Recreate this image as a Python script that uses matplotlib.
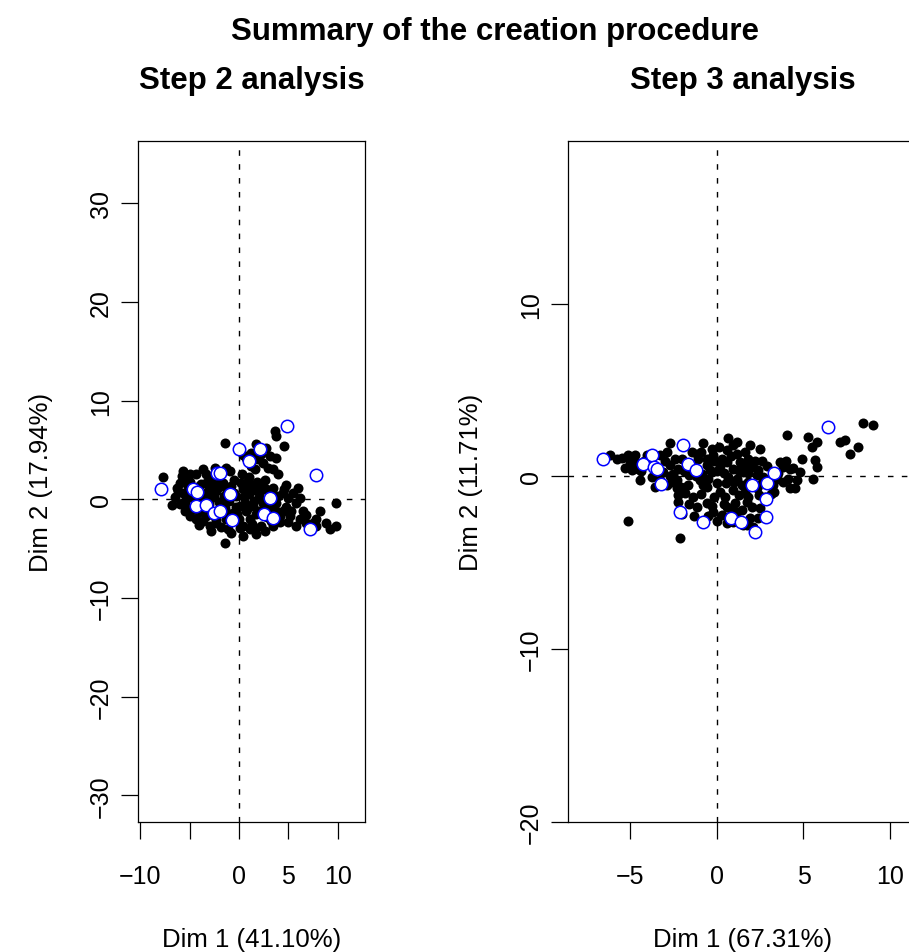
import matplotlib
matplotlib.use("Agg")
import matplotlib.pyplot as plt

plt.rcParams["font.family"] = ["Liberation Sans", "DejaVu Sans"]

# ---- step 2 analysis (left panel) ----
s2_x = [-1.45, 1.69, 2.77, 4.53, 3.61, 3.78, 3.11, 3.78, 2.43, 2.94, 3.45, 3.95, 1.59, 0.74,
        0.41, 1.25, 2.26, 1.93, -7.70, -5.68, -5.00, -5.51, -6.01, -6.18, -5.68, -5.17, -3.65,
        -3.31, -2.47, -1.28, -0.95, -2.97, -3.82, -2.64, -1.62, -2.30, -3.31, -3.82, -5.34,
        -6.01, -5.51, -5.00, -4.32, -3.31, -2.97, -2.30, -1.28, -0.61, -1.45, 0.07, -0.27,
        0.41, 0.91, 1.42, 2.09, 2.77, 3.45, 4.80, 5.98, 4.46, 4.97, 3.78, 4.46, 5.14, 5.81,
        6.49, 6.15, 5.81, 6.82, 7.84, 8.18, 7.84, 9.19, 9.86, 9.86, 1.42, 1.76, 1.08, 0.41,
        1.76, -0.78, -1.45, 0.74, 2.43, 3.11, 2.26, 1.08, 3.45, 4.12, 0.41,
        -4.8, -4.5, -4.0, -3.5, -3.0, -2.5, -2.0, -1.5, -1.0, -0.5, 0.5, 1.0, 1.5, 2.0, 2.5,
        3.0, -5.5, -4.8, -4.0, -3.6, -2.0, -1.0, 0.0, 1.3, 2.8, 3.8, 4.8, 5.5, -2.0, -1.2,
        0.2, 1.0, 1.8, 2.6, -3.0, -4.3, -5.0, -6.5, -6.8, -4.0, -2.8, -1.8, 0.8, 2.0, 3.2,
        -0.3, -2.6, 1.2, 0.3, -3.0, 4.0, 5.0, 6.8, 7.5, 8.8,
        -5.2, -4.6, -3.9, -3.3, -2.8, -2.2, -1.7, -0.8, -0.2, 0.6, 1.1, 1.6, 2.3, 2.9, 3.4,
        4.2, 4.6, 5.3, 6.2, -6.3, -5.8, -4.4, -2.0, -0.5, 0.1, 1.6, 2.6, -1.1, -2.3, -3.2]
s2_y = [5.74, 5.57, 5.24, 5.41, 6.93, 6.42, 4.39, 4.22, 3.72, 3.21, 3.04, 2.53, 3.04, 4.22,
        4.46, 4.73, 4.56, 4.05, 2.30, 2.87, 2.53, 2.03, 1.69, 0.84, 0.68, 1.35, 3.04, 2.53,
        3.21, 3.21, 2.87, 1.86, 1.52, 1.35, 1.69, 0.84, 0.68, 0.00, 0.00, -0.51, -1.18,
        -1.69, -2.03, -1.69, -2.70, -2.36, -2.03, -1.35, -0.84, -0.68, 0.34, 1.01, 1.86,
        1.18, 0.84, 1.01, 1.18, 1.42, 1.18, 0.68, 0.17, -0.34, -1.18, -1.69, -0.34, -1.18,
        -2.03, -2.70, -2.36, -2.03, -1.18, -2.70, -3.04, -2.70, -0.34, -0.68, -1.52, -2.03,
        -2.70, -3.55, -3.45, -4.46, -1.18, -0.34, -1.01, -2.70, -3.04, -2.70, -1.69, -3.72,
        0.3, -0.2, 0.5, 0.0, -0.5, 0.2, -0.3, 0.3, -0.2, 0.6, 0.2, 0.5, -0.2, 0.2, -0.5,
        0.4, -0.5, -1.0, -1.3, -2.2, -1.0, -1.5, -2.0, -2.5, -1.8, -1.2, -0.8, 0.6, 1.2, 0.9,
        1.6, 2.3, 1.7, 2.0, 1.0, 1.2, 1.8, 0.2, -0.6, -2.6, -3.2, -2.8, -1.0, -1.2, -2.2,
        -0.8, -1.6, 3.4, 2.6, 2.0, 0.3, -2.3, -1.6, -2.4, -2.4,
        -0.9, 0.9, -0.7, 1.6, 0.4, 1.9, -0.6, 1.3, -1.5, -0.4, 1.3, 0.9, 1.2, -0.9, -0.3,
        -2.3, 1.0, -1.2, 0.1, 1.1, 2.4, 2.6, 2.5, 2.0, -2.9, -3.0, -3.2, -3.0, -2.1, -1.0]
s2_sup_x = [4.90, 0.00, 2.09, 1.01, -2.23, -1.96, 7.84, -7.87, -4.66, -4.22, -0.95, 3.11,
            -4.39, -3.38, -2.57, -1.96, -0.71, 2.50, 3.45, 7.16]
s2_sup_y = [7.43, 5.14, 5.14, 3.89, 2.64, 2.70, 2.47, 1.01, 1.01, 0.74, 0.57, 0.17,
            -0.68, -0.61, -1.35, -1.22, -2.09, -1.45, -1.89, -2.97]

# ---- step 3 analysis (right panel) ----
s3_x = [-6.18, -5.51, -5.13, -4.74, -5.03, -4.93, -4.55, -4.45, -4.07, -3.78, -3.29, -2.72,
        -2.91, -2.43, -2.72, -3.10, -2.52, -2.24, -2.04, -2.33, -2.91, -3.29, -2.33, -1.66,
        -1.85, -2.24, -2.24, -1.46, -1.18, -0.79, -1.08, -0.60, -0.31, -0.21, -0.60, -0.89,
        -0.31, -0.50, -0.79, -0.02, 0.17, 0.46, -1.18, -0.60, -0.21, 0.27, 0.56, 1.14, 0.94,
        1.43, 1.04, 1.71, 2.00, 1.91, 0.66, 1.14, 0.56, 1.14, 1.62, 1.81, 1.33, 0.56, 0.27,
        0.94, 1.52, 2.00, 2.39, 2.49, 0.66, 1.14, 1.43, 0.94, 1.62, 2.29, 2.68, 3.26, 3.64,
        3.83, 4.22, 4.80, 4.12, 4.22, 4.51, 3.45, 4.89, 5.66, 5.76, 5.57, 4.03, 5.28, 5.76,
        5.47, 7.11, 7.40, 7.69, 8.17, 8.46, 9.04, -5.13, -2.14, 1.71, 2.39, 2.49,
        -3.9, -3.5, -3.0, -2.6, -1.9, -1.4, -1.0, -0.4, 0.2, 0.4, 0.8, 1.2, 1.8, 2.2, 2.6,
        2.9, 3.1, 3.5, 4.0, -1.4, -0.9, -0.2, 0.4, 1.3, 1.8, 0.0, 0.6, 1.5, 2.1, -1.3, -0.5,
        -3.6, -4.2, -4.7, -5.3, -2.0, 3.8, 4.6, 0.1, -0.9, 1.9, 2.8,
        -5.8, -4.4, -3.7, -3.3, -2.7, -2.1, -1.6, -1.2, -0.6, 0.0, 0.5, 1.0, 1.6, 2.3, 2.6,
        3.0, 3.3, 4.4, -0.3, 0.8, 1.8, 2.4, -1.6, -0.2, 0.9]
s3_y = [1.27, 1.08, 1.23, 1.27, 0.85, 0.37, 0.46, -0.21, 1.23, -0.02, 1.23, 1.91, 1.43,
        1.04, 0.66, 0.27, 0.17, 0.46, 1.04, -0.21, -0.50, -0.21, -0.69, -0.50, -0.98, -1.08,
        -1.46, 1.43, 1.33, 1.91, 1.04, 1.04, 1.62, 1.23, 0.66, 0.17, 0.27, -0.12, -0.50,
        -0.40, -0.89, -1.18, -1.75, -1.56, -2.04, -2.24, -1.75, -2.04, -2.62, -1.95, -1.56,
        -1.46, -1.75, -2.43, 2.20, 2.00, 1.52, 1.33, 1.43, 1.04, 0.85, 0.85, 1.04, 0.46,
        0.27, 0.56, 0.37, 1.62, -0.02, -0.12, -0.50, -0.79, -0.89, -0.69, -0.02, -0.50,
        0.85, 0.56, 0.46, 0.27, -0.12, -0.69, -0.69, -0.12, 1.04, 0.94, 0.56, -0.12, 2.39,
        2.29, 2.00, 1.71, 2.00, 2.10, 1.33, 1.71, 3.12, 2.97, -2.58, -3.58, -2.81, -2.43,
        -1.85,
        0.8, 0.4, 0.9, -0.3, 0.3, 0.6, -0.2, 0.4, 0.6, 0.2, 1.2, 0.4, 0.2, 0.9, -0.4, 0.6,
        -1.0, 0.2, 0.9, -1.2, -1.0, -1.2, -1.6, -1.1, -0.3, -2.6, -2.7, -2.8, -2.9, -2.3,
        -2.3, -0.6, 0.9, 0.8, 0.5, -2.2, -0.3, -0.2, 1.7, 1.4, 1.8, -1.2,
        1.0, 0.3, 1.3, -0.5, 0.0, -0.6, 0.1, 0.0, -0.6, 0.3, -0.4, -0.3, 0.6, 0.1, 0.9,
        -0.2, -0.9, 0.5, -1.7, -1.9, -1.2, -1.1, -1.6, 0.9, 1.8]
s3_sup_x = [-6.57, -4.26, -3.74, -3.62, -3.49, -3.24, -1.95, -1.70, -1.23, -2.14, -0.79,
            0.79, 1.37, 2.04, 2.20, 2.87, 3.31, 2.81, 2.83, 6.44]
s3_sup_y = [1.04, 0.75, 1.27, 0.56, 0.46, -0.46, 1.85, 0.75, 0.40, -2.04, -2.62, -2.43,
            -2.66, -0.50, -3.20, -0.35, 0.23, -1.31, -2.35, 2.87]

panels = [
    dict(title="Step 2 analysis", x=s2_x, y=s2_y, sx=s2_sup_x, sy=s2_sup_y,
         xlabel="Dim 1 (41.10%)", ylabel="Dim 2 (17.94%)",
         xlim=(-10.23, 12.77), ylim=(-32.7, 36.3),
         xticks=[-10, -5, 0, 5, 10], xticklabels=["\u221210", "", "0", "5", "10"],
         yticks=[-30, -20, -10, 0, 10, 20, 30],
         yticklabels=["\u221230", "\u221220", "\u221210", "0", "10", "20", "30"],
         rect=[138 / 909, 130 / 953, 227 / 909, 681 / 953]),
    dict(title="Step 3 analysis", x=s3_x, y=s3_y, sx=s3_sup_x, sy=s3_sup_y,
         xlabel="Dim 1 (67.31%)", ylabel="Dim 2 (11.71%)",
         xlim=(-8.61, 11.56), ylim=(-19.94, 19.42),
         xticks=[-5, 0, 5, 10], xticklabels=["\u22125", "0", "5", "10"],
         yticks=[-20, -10, 0, 10], yticklabels=["\u221220", "\u221210", "0", "10"],
         rect=[568 / 909, 130 / 953, 349 / 909, 681 / 953]),
]

fig = plt.figure(figsize=(9.09, 9.53), dpi=100)
fig.text(495 / 909, 1 - 32 / 953, "Summary of the creation procedure",
         ha="center", va="center", fontsize=22.5, fontweight="bold")

for p in panels:
    ax = fig.add_axes(p["rect"])
    ax.axhline(0, color="black", lw=1.0, linestyle=(0, (4, 6)), zorder=1)
    ax.axvline(0, color="black", lw=1.0, linestyle=(0, (4, 6)), zorder=1)
    ax.scatter(p["x"], p["y"], s=52, color="black", linewidths=0, zorder=2)
    ax.scatter(p["sx"], p["sy"], s=80, facecolors="white", edgecolors="#0000ff",
               linewidths=1.1, zorder=3)
    ax.set_xlim(p["xlim"])
    ax.set_ylim(p["ylim"])
    ax.set_xticks(p["xticks"])
    ax.set_xticklabels(p["xticklabels"])
    ax.set_yticks(p["yticks"])
    ax.set_yticklabels(p["yticklabels"], rotation=90, va="center")
    ax.tick_params(axis="both", direction="out", length=12, width=0.9, labelsize=18)
    ax.tick_params(axis="x", pad=18)
    ax.tick_params(axis="y", pad=6)
    for sp in ax.spines.values():
        sp.set_linewidth(0.9)
    ax.set_xlabel(p["xlabel"], fontsize=18.5, labelpad=28)
    ax.set_ylabel(p["ylabel"], fontsize=18.5, labelpad=26)
    ax.set_title(p["title"], fontsize=22.5, fontweight="bold", pad=38)

fig.savefig("out.png", dpi=100)
